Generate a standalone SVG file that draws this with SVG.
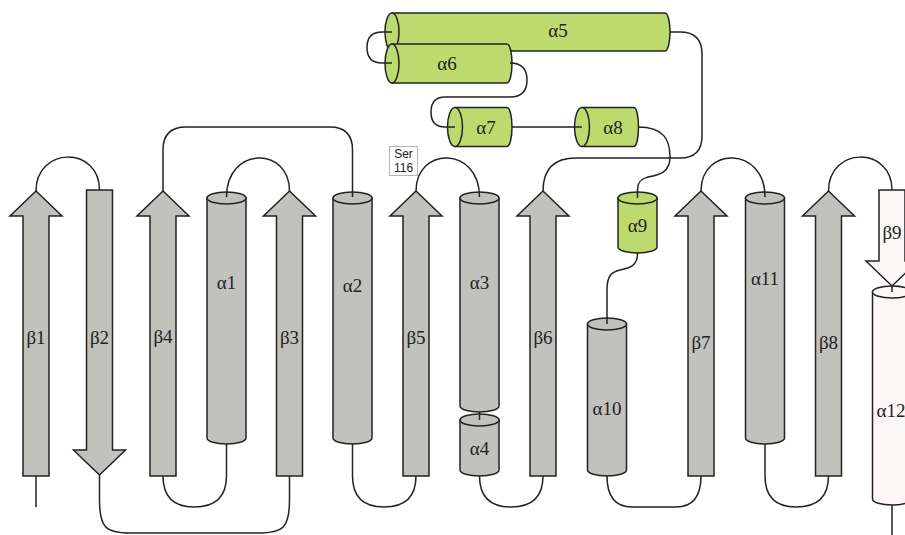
<svg xmlns="http://www.w3.org/2000/svg" width="905" height="535" viewBox="0 0 905 535">
  <style>
    .strand { fill: #c1c1be; stroke: #222; stroke-width: 1.5; stroke-linejoin: miter; }
    .helix { fill: #c1c1be; stroke: #222; stroke-width: 1.5; }
    .green { fill: #bdda6e; }
    .pale { fill: #fcf7f7; }
    .lbl { font-family: "Liberation Serif", "Times New Roman", serif; font-size: 19px; fill: #222; text-anchor: middle; dominant-baseline: central; }
    .tag { font-family: "Liberation Sans", Arial, sans-serif; font-size: 12px; fill: #222; text-anchor: middle; }
    .conn path, .conn line { fill: none; stroke: #222; stroke-width: 1.5; }
  </style>
  <rect width="905" height="535" fill="#fff"/>

  <!-- beta strands (arrows) -->
  <g id="b1"><polygon class="strand" points="23,476 23,216 10,216 36,191 62,216 49,216 49,476"/><text class="lbl" x="36" y="337">β1</text></g>
  <g id="b2"><polygon class="strand" points="86.5,190 86.5,450 73.5,450 99.5,475 125.5,450 112.5,450 112.5,190"/><text class="lbl" x="99.5" y="337">β2</text></g>
  <g id="b4"><polygon class="strand" points="150,476 150,216 137,216 163,191 189,216 176,216 176,476"/><text class="lbl" x="163" y="336">β4</text></g>
  <g id="b3"><polygon class="strand" points="276.5,476 276.5,216 263.5,216 289.5,191 315.5,216 302.5,216 302.5,476"/><text class="lbl" x="289.5" y="337">β3</text></g>
  <g id="b5"><polygon class="strand" points="403,476 403,216 390,216 416,191 442,216 429,216 429,476"/><text class="lbl" x="416" y="337">β5</text></g>
  <g id="b6"><polygon class="strand" points="530,476 530,216 517,216 543,191 569,216 556,216 556,476"/><text class="lbl" x="543" y="337">β6</text></g>
  <g id="b7"><polygon class="strand" points="688,476 688,216 675,216 701,191 727,216 714,216 714,476"/><text class="lbl" x="701" y="342">β7</text></g>
  <g id="b8"><polygon class="strand" points="815.5,476 815.5,216 802.5,216 828.5,191 854.5,216 841.5,216 841.5,476"/><text class="lbl" x="828.5" y="342">β8</text></g>
  <g id="b9"><polygon class="strand pale" points="879,190 879,261 866,261 892,286 918,261 905,261 905,190"/><text class="lbl" x="892" y="232">β9</text></g>

  <!-- vertical helices (cylinders) -->
  <g id="a1"><path class="helix" d="M207,198 V438 A19.5,6 0 0 0 246,438 V198 Z"/><ellipse class="helix" cx="226.5" cy="198" rx="19.5" ry="6"/><text class="lbl" x="226.5" y="282">α1</text></g>
  <g id="a2"><path class="helix" d="M333,198 V438 A19.5,6 0 0 0 372,438 V198 Z"/><ellipse class="helix" cx="352.5" cy="198" rx="19.5" ry="6"/><text class="lbl" x="352.5" y="285">α2</text></g>
  <g id="a3"><path class="helix" d="M460,198 V406 A19.5,6 0 0 0 499,406 V198 Z"/><ellipse class="helix" cx="479.5" cy="198" rx="19.5" ry="6"/><text class="lbl" x="479.5" y="282">α3</text></g>
  <g id="a4"><path class="helix" d="M460,420 V470 A19.5,6 0 0 0 499,470 V420 Z"/><ellipse class="helix" cx="479.5" cy="420" rx="19.5" ry="6"/><text class="lbl" x="479.5" y="448">α4</text></g>
  <g id="a9"><path class="helix green" d="M618,198 V247 A19.5,6 0 0 0 657,247 V198 Z"/><ellipse class="helix green" cx="637.5" cy="198" rx="19.5" ry="6"/><text class="lbl" x="637.5" y="225">α9</text></g>
  <g id="a10"><path class="helix" d="M587.5,324 V470 A19.5,6 0 0 0 626.5,470 V324 Z"/><ellipse class="helix" cx="607" cy="324" rx="19.5" ry="6"/><text class="lbl" x="607" y="408">α10</text></g>
  <g id="a11"><path class="helix" d="M745.5,198 V438 A19.5,6 0 0 0 784.5,438 V198 Z"/><ellipse class="helix" cx="765" cy="198" rx="19.5" ry="6"/><text class="lbl" x="765" y="278">α11</text></g>
  <g id="a12"><path class="helix pale" d="M872.5,292 V499 A19.5,6 0 0 0 911.5,499 V292 Z"/><ellipse class="helix pale" cx="892" cy="292" rx="19.5" ry="6"/><text class="lbl" x="891" y="410">α12</text></g>

  <!-- horizontal helices -->
  <g id="a5"><path class="helix green" d="M392,13 H665 A5,19 0 0 1 665,51 H392 Z"/><ellipse class="helix green" cx="392" cy="32" rx="7" ry="19"/><text class="lbl" x="558" y="30">α5</text></g>
  <g id="a6"><path class="helix green" d="M392,44 H507 A5,19.5 0 0 1 507,83 H392 Z"/><ellipse class="helix green" cx="392" cy="63.5" rx="7" ry="19.5"/><text class="lbl" x="447" y="63">α6</text></g>
  <g id="a7"><path class="helix green" d="M455,107.5 H507 A5,19.5 0 0 1 507,146.5 H455 Z"/><ellipse class="helix green" cx="455" cy="127" rx="7.5" ry="19.5"/><text class="lbl" x="486" y="127">α7</text></g>
  <g id="a8"><path class="helix green" d="M582,107.5 H634 A4.5,19.5 0 0 1 634,146.5 H582 Z"/><ellipse class="helix green" cx="582" cy="127" rx="7.5" ry="19.5"/><text class="lbl" x="613" y="127">α8</text></g>

  <!-- residue marker -->
  <g id="ser116">
    <rect x="389.5" y="146.5" width="28" height="29" fill="#fff" stroke="#b5b5b5" stroke-width="1"/>
    <text class="tag" x="403.5" y="158">Ser</text>
    <text class="tag" x="403.5" y="172">116</text>
  </g>

  <!-- loops connecting the elements -->
  <g class="conn" id="connectors">
    <line x1="36" y1="476" x2="36" y2="507"/>
    <path d="M36,191 C36,146 99.5,146 99.5,190"/>
    <path d="M99.5,475 V500 C99.5,528 106,533 130,533 H258 C283,533 289.5,528 289.5,500 V476"/>
    <path d="M226.5,197 C226.5,146 289.5,146 289.5,191"/>
    <path d="M163,476 Q163,507 194,507 Q226.5,507 226.5,476 V444"/>
    <path d="M163,191 V150 Q163,127 186,127 H330 Q352.5,127 352.5,150 V197"/>
    <path d="M352.5,444 V476 Q352.5,507 384,507 Q416,507 416,476"/>
    <path d="M416,191 C416,146 479.5,146 479.5,197"/>
    <line x1="479.5" y1="412" x2="479.5" y2="420"/>
    <path d="M479.5,476 Q479.5,507 511,507 Q543,507 543,476"/>
    <path d="M543,191 Q543,158 576,158 H680 Q702,158 702,136 V54 Q702,32 680,32 H670"/>
    <path d="M392,32 H382 Q367,32 367,47.5 Q367,63 382,63 H392"/>
    <path d="M510,63 Q527,63 527,80 Q527,97 510,97 H445 Q431,97 431,112 Q431,127 445,127 H455"/>
    <line x1="512" y1="127" x2="582" y2="127"/>
    <path d="M638,127 C664,127 670,140 670,157 C670,172 660,175 648,177 C640,179 637.5,183 637.5,190 V198"/>
    <path d="M637.5,253 C637.5,266 630,268 620,270 C610,272 607,278 607,290 V324"/>
    <path d="M607,476 Q607,507 632,507 H676 Q701,507 701,476"/>
    <path d="M701,191 C701,146 765,146 765,197"/>
    <path d="M765,444 V476 Q765,507 796,507 Q828.5,507 828.5,476"/>
    <path d="M828.5,191 C828.5,146 892,146 892,190"/>
    <line x1="892" y1="286" x2="892" y2="292"/>
    <line x1="892" y1="505" x2="892" y2="535"/>
  </g>
</svg>
